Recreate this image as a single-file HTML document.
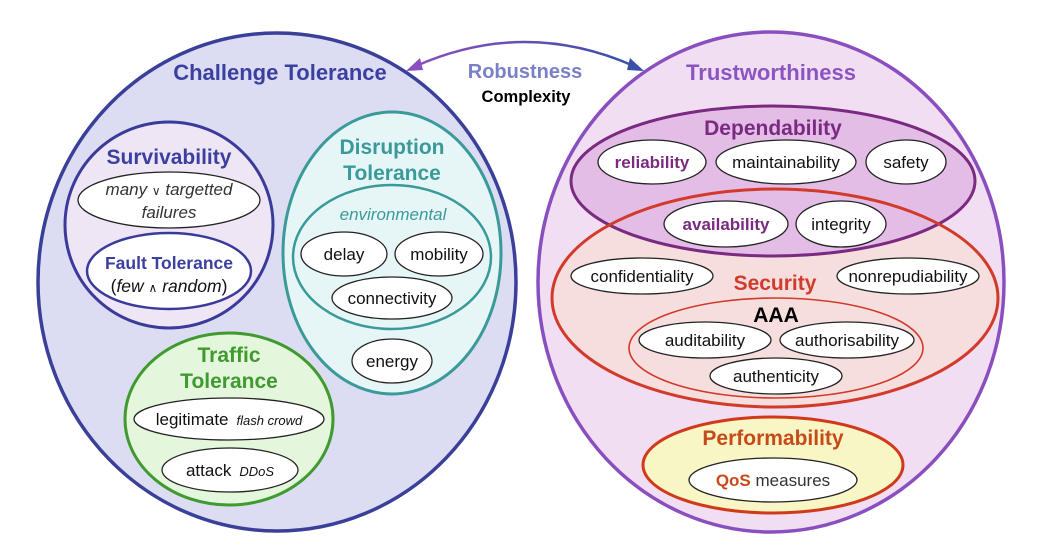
<!DOCTYPE html>
<html><head><meta charset="utf-8"><style>
html,body{margin:0;padding:0;background:#fff;width:1052px;height:554px;overflow:hidden}
svg{display:block}
text{font-family:"Liberation Sans",Arial,sans-serif;text-anchor:middle}
.b{font-weight:bold}
.n{font-size:17px;fill:#111}
.w{fill:#fff;stroke:#222;stroke-width:1.3}
</style></head><body>
<svg width="1052" height="554" viewBox="0 0 1052 554" xmlns="http://www.w3.org/2000/svg">
<defs>
<linearGradient id="g" x1="0" x2="1" y1="0" y2="0">
<stop offset="0" stop-color="#8a4fc0"/><stop offset="1" stop-color="#3a4fa8"/>
</linearGradient>
</defs>
<ellipse cx="277" cy="282" rx="239" ry="249" fill="#dcdcf2" stroke="#3a3f9a" stroke-width="3.5"/>
<text x="280" y="80" class="b" font-size="22" fill="#3b3fa0">Challenge Tolerance</text>

<ellipse cx="169" cy="225" rx="104" ry="103" fill="#efe6f5" stroke="#3a3a9a" stroke-width="3"/>
<text x="169" y="164" class="b" font-size="21" fill="#3b3fa0">Survivability</text>
<ellipse cx="169" cy="200" rx="91" ry="28" class="w"/>
<text x="169" y="195" font-size="17" font-style="italic" fill="#333">many <tspan font-size="12" font-style="normal">∨</tspan> targetted</text>
<text x="169" y="218" font-size="17" font-style="italic" fill="#333">failures</text>
<ellipse cx="169" cy="271" rx="82" ry="38" fill="#fff" stroke="#3a3a9a" stroke-width="2.5"/>
<text x="169" y="269" class="b" font-size="17.5" fill="#3b3fa0">Fault Tolerance</text>
<text x="169" y="292" font-size="17.5" fill="#111">(<tspan font-style="italic">few</tspan> <tspan font-size="12">∧</tspan> <tspan font-style="italic">random</tspan>)</text>

<ellipse cx="392" cy="253" rx="109" ry="141" fill="#e6f6f6" stroke="#3a9a9a" stroke-width="3"/>
<text x="392" y="154" class="b" font-size="21" fill="#3a9a9a">Disruption</text>
<text x="392" y="180" class="b" font-size="21" fill="#3a9a9a">Tolerance</text>
<ellipse cx="392" cy="257" rx="99" ry="72" fill="none" stroke="#3a9a9a" stroke-width="2.5"/>
<text x="393" y="220" font-size="17" font-style="italic" fill="#3a9a9a">environmental</text>
<ellipse cx="344" cy="254" rx="43" ry="22" class="w"/><text x="344" y="260" class="n">delay</text>
<ellipse cx="439" cy="254" rx="44" ry="22" class="w"/><text x="439" y="260" class="n">mobility</text>
<ellipse cx="392" cy="298" rx="60" ry="21" class="w"/><text x="392" y="304" class="n">connectivity</text>
<ellipse cx="392" cy="361" rx="40" ry="22" class="w"/><text x="392" y="367" class="n">energy</text>

<ellipse cx="229" cy="419" rx="104" ry="86" fill="#e4f6dc" stroke="#3f9a2f" stroke-width="3"/>
<text x="229" y="362" class="b" font-size="21" fill="#3f9a2f">Traffic</text>
<text x="229" y="388" class="b" font-size="21" fill="#3f9a2f">Tolerance</text>
<ellipse cx="229" cy="419" rx="95" ry="21" class="w"/>
<text x="229" y="425" class="n"><tspan>legitimate</tspan><tspan font-size="13" font-style="italic" dx="8">flash crowd</tspan></text>
<ellipse cx="230" cy="470" rx="68" ry="22" class="w"/>
<text x="230" y="476" class="n"><tspan>attack</tspan><tspan font-size="13" font-style="italic" dx="8">DDoS</tspan></text>

<ellipse cx="771" cy="282" rx="233" ry="250" fill="#f2def2" stroke="#8a4fbf" stroke-width="3.5"/>
<text x="771" y="80" class="b" font-size="22" fill="#8a55c0">Trustworthiness</text>

<ellipse cx="775" cy="298" rx="223" ry="109" fill="#f6dede"/>
<ellipse cx="773" cy="181" rx="202" ry="75" fill="#e3bde6" stroke="#7a2a80" stroke-width="3"/>
<ellipse cx="775" cy="298" rx="223" ry="109" fill="none" stroke="#d23a2a" stroke-width="3"/>
<text x="773" y="135" class="b" font-size="21" fill="#7a2a80">Dependability</text>
<ellipse cx="652" cy="162" rx="54" ry="22" class="w"/><text x="652" y="168" class="n b" style="fill:#7a2a80">reliability</text>
<ellipse cx="786" cy="162" rx="70" ry="22" class="w"/><text x="786" y="168" class="n">maintainability</text>
<ellipse cx="906" cy="162" rx="40" ry="22" class="w"/><text x="906" y="168" class="n">safety</text>
<ellipse cx="726" cy="224" rx="62" ry="23" class="w"/><text x="726" y="230" class="n b" style="fill:#7a2a80">availability</text>
<ellipse cx="841" cy="224" rx="45" ry="23" class="w"/><text x="841" y="230" class="n">integrity</text>

<text x="775" y="290" class="b" font-size="21" fill="#d23a2a">Security</text>
<ellipse cx="642" cy="276" rx="71" ry="18" class="w"/><text x="642" y="282" class="n">confidentiality</text>
<ellipse cx="908" cy="276" rx="71" ry="18" class="w"/><text x="908" y="282" class="n">nonrepudiability</text>
<ellipse cx="776" cy="348" rx="147" ry="50" fill="none" stroke="#d23a2a" stroke-width="1.6"/>
<text x="776" y="322" class="b" font-size="21" fill="#000">AAA</text>
<ellipse cx="705" cy="340" rx="66" ry="18" class="w"/><text x="705" y="346" class="n">auditability</text>
<ellipse cx="847" cy="340" rx="67" ry="18" class="w"/><text x="847" y="346" class="n">authorisability</text>
<ellipse cx="776" cy="376" rx="66" ry="18" class="w"/><text x="776" y="382" class="n">authenticity</text>

<ellipse cx="773" cy="465" rx="130" ry="48" fill="#f8f6c4" stroke="#d03a1a" stroke-width="3"/>
<text x="773" y="445" class="b" font-size="21" fill="#c84a1a">Performability</text>
<ellipse cx="773" cy="480" rx="84" ry="22" class="w"/>
<text x="773" y="486" class="n"><tspan class="b" fill="#c84a1a">QoS</tspan> <tspan fill="#333">measures</tspan></text>

<path d="M 416 66 Q 525 18 634 66" fill="none" stroke="url(#g)" stroke-width="2.5"/>
<polygon points="406,71 420,58 423,70" fill="#8a4fc0"/>
<polygon points="644,71 630,58 627,70" fill="#3a4fa8"/>
<text x="525" y="78" class="b" font-size="20" fill="#7a80c8">Robustness</text>
<text x="526" y="102" class="b" font-size="16.5" fill="#000">Complexity</text>
</svg>
</body></html>
